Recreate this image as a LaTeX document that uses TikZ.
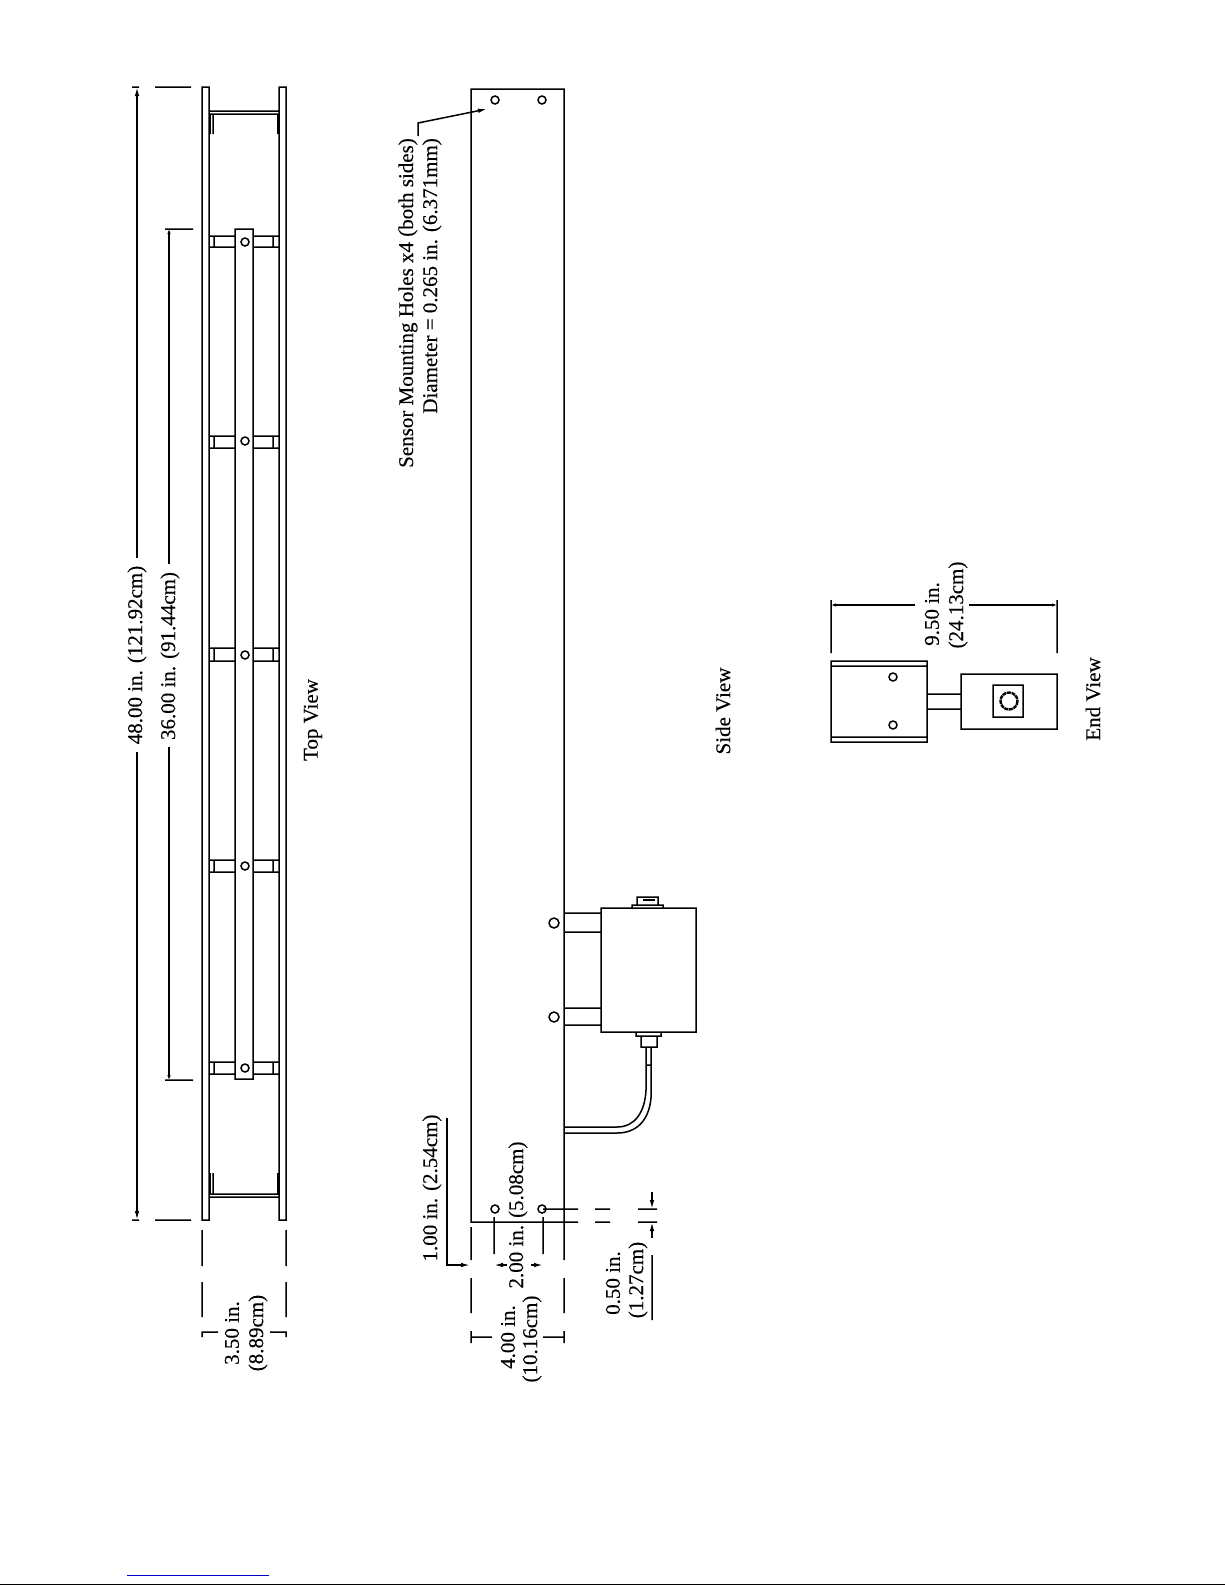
\documentclass[tikz,border=0pt]{standalone}
\usepackage{fontspec}
\setmainfont[FakeBold=0.2]{Liberation Serif}
\usetikzlibrary{arrows.meta}

\tikzset{
    part/.style={line width=1.5pt},
    heavy/.style={line width=2.4pt},
    dimarrow/.style={line width=1.5pt, -{Latex[length=9pt,width=4.5pt]}},
    tinyarrow/.style={line width=1.5pt, -{Latex[length=5pt,width=3.5pt]}},
    dimtext/.style={rotate=90, inner sep=0pt, font=\fontsize{21}{24}\selectfont},
    viewtext/.style={rotate=90, inner sep=0pt, font=\fontsize{21}{24}\selectfont},
}

\begin{document}
\begin{tikzpicture}[x=1pt, y=-1pt]
    \useasboundingbox (0, 0) rectangle (1225, 1585);

    % top view
    \draw[part]
        (202, 87) rectangle (209, 1220)
        (279, 87) rectangle (286, 1220)
        (235, 229) rectangle (253, 1079)

        (209, 111) -- ++ (70, 0)
        (209, 114) -- ++ (70, 0)
        (210, 114) -- ++ (0, 20)
        (213, 114) -- ++ (0, 20)
        (209, 1194) -- ++ (70, 0)
        (209, 1197) -- ++ (70, 0)
        (210, 1194) -- ++ (0, -21)
        (213, 1194) -- ++ (0, -21)

        (209, 236) -- ++ (26, 0)
        (209, 247) -- ++ (26, 0)
        (253, 236) -- ++ (26, 0)
        (253, 247) -- ++ (26, 0)
        (214, 236) -- ++ (0, 11)
        (273, 236) -- ++ (0, 11)

        (209, 436) -- ++ (26, 0)
        (209, 448) -- ++ (26, 0)
        (253, 436) -- ++ (26, 0)
        (253, 448) -- ++ (26, 0)
        (214, 436) -- ++ (0, 12)
        (273, 436) -- ++ (0, 12)

        (209, 648) -- ++ (26, 0)
        (209, 661) -- ++ (26, 0)
        (253, 648) -- ++ (26, 0)
        (253, 661) -- ++ (26, 0)
        (214, 648) -- ++ (0, 13)
        (273, 648) -- ++ (0, 13)

        (209, 860) -- ++ (26, 0)
        (209, 872) -- ++ (26, 0)
        (253, 860) -- ++ (26, 0)
        (253, 872) -- ++ (26, 0)
        (214, 860) -- ++ (0, 12)
        (273, 860) -- ++ (0, 12)

        (209, 1062) -- ++ (26, 0)
        (209, 1074) -- ++ (26, 0)
        (253, 1062) -- ++ (26, 0)
        (253, 1074) -- ++ (26, 0)
        (214, 1062) -- ++ (0, 12)
        (273, 1062) -- ++ (0, 12)

        (245, 242) circle[radius=4]
        (245, 441) circle[radius=4]
        (245, 655) circle[radius=4]
        (245, 866) circle[radius=4]
        (245, 1068) circle[radius=4]

        (132, 87) -- ++ (7, 0)
        (155, 87) -- ++ (36, 0)
        (132, 1220) -- ++ (7, 0)
        (155, 1220) -- ++ (36, 0)
        (165, 229) -- ++ (28, 0)
        (165, 1080) -- ++ (28, 0)

        (202, 1230) -- ++ (0, 36)
        (202, 1282) -- ++ (0, 35)
        (286, 1230) -- ++ (0, 36)
        (286, 1282) -- ++ (0, 35)
        (202, 1337) -- ++ (0, -5) -- ++ (16, 0)
        (286, 1337) -- ++ (0, -5) -- ++ (-16, 0)
    ;
    \draw[heavy]
        (278, 114) -- ++ (0, 20)
        (278, 1194) -- ++ (0, -21)
    ;
    \draw[dimarrow] (137, 558) -- (137, 87);
    \draw[dimarrow] (137, 752) -- (137, 1220);
    \draw[tinyarrow] (169, 564) -- (169, 229);
    \draw[tinyarrow] (169, 747) -- (169, 1080);
    \node[dimtext] (toplength) at (137, 655) {48.00 in. (121.92cm)};
    \node[dimtext] (barlength) at (170, 656) {36.00 in. (91.44cm)};
    \node[dimtext] (topwidthin) at (232, 1333) {3.50 in.};
    \node[dimtext] (topwidthcm) at (258, 1333) {(8.89cm)};
    \node[viewtext] (topview) at (313, 720) {Top View};

    % side view
    \draw[part]
        (471, 89) rectangle (564, 1222)
        (601, 908) rectangle (696, 1032)

        (495, 100) circle[radius=4]
        (542, 100) circle[radius=4]
        (495, 1209) circle[radius=4]
        (542, 1209) circle[radius=4]
        (554, 923) circle[radius=5]
        (554, 1017) circle[radius=5]

        (564, 913) -- ++ (37, 0)
        (564, 932) -- ++ (37, 0)
        (564, 1008) -- ++ (37, 0)
        (564, 1025) -- ++ (37, 0)

        (632, 905) rectangle (663, 908)
        (637, 897) rectangle (658, 905)
        (636, 1032) rectangle (661, 1036)
        (641, 1036) rectangle (657, 1047)

        (646, 1047) -- (646, 1090) .. controls (645, 1112) and (635, 1127) .. (617, 1127) -- (564, 1127)
        (651, 1047) -- (651, 1098) .. controls (649, 1120) and (637, 1133) .. (617, 1133) -- (564, 1133)
        (646, 1065) -- ++ (5, 0)

        (564, 1222) -- ++ (14, 0)
        (595, 1222) -- ++ (15, 0)
        (638, 1222) -- ++ (19, 0)
        (543, 1209) -- ++ (35, 0)
        (595, 1209) -- ++ (15, 0)
        (638, 1209) -- ++ (19, 0)

        (471, 1227) -- ++ (0, 33)
        (471, 1278) -- ++ (0, 35)
        (564, 1222) -- ++ (0, 38)
        (564, 1278) -- ++ (0, 35)
        (494, 1217) -- ++ (0, 37)
        (543, 1217) -- ++ (0, 37)

        (471, 1331) -- ++ (0, 12)
        (564, 1331) -- ++ (0, 12)
        (471, 1337) -- ++ (21, 0)
        (543, 1337) -- ++ (21, 0)

        (652, 1255) -- ++ (0, 65)
    ;
    \draw[heavy]
        (643, 900) -- ++ (12, 0)
    ;
    \draw[dimarrow] (418, 136) -- (418, 123) -- (487, 109);
    \draw[dimarrow] (447, 1118) -- (447, 1265) -- (470, 1265);
    \draw[dimarrow] (507, 1265) -- (494, 1265);
    \draw[dimarrow] (531, 1265) -- (543, 1265);
    \draw[dimarrow] (652, 1192) -- (652, 1209);
    \draw[dimarrow] (652, 1238) -- (652, 1222);

    \node[dimtext, anchor=east] (holesname) at (408, 138) {Sensor Mounting Holes x4 (both sides)};
    \node[dimtext, anchor=east] (holessize) at (432, 138) {Diameter = 0.265 in. (6.371mm)};
    \node[dimtext] (holeedge) at (432, 1188) {1.00 in. (2.54cm)};
    \node[dimtext] (holespan) at (518, 1215) {2.00 in. (5.08cm)};
    \node[dimtext] (sidewidthin) at (508, 1337) {4.00 in.};
    \node[dimtext] (sidewidthcm) at (532, 1339) {(10.16cm)};
    \node[dimtext] (holeendin) at (613, 1283) {0.50 in.};
    \node[dimtext] (holeendcm) at (638, 1280) {(1.27cm)};
    \node[viewtext] (sideview) at (723, 711) {Side View};

    % end view
    \draw[part]
        (831, 661) rectangle (927, 742)
        (831, 666) -- ++ (96, 0)
        (831, 737) -- ++ (96, 0)
        (893, 677) circle[radius=4]
        (893, 725) circle[radius=4]

        (927, 694) -- ++ (34, 0)
        (927, 709) -- ++ (34, 0)
        (961, 674) rectangle (1057, 729)
        (993, 685) rectangle (1023, 717)

        (831, 600) -- ++ (0, 53)
        (1057, 600) -- ++ (0, 53)
    ;
    \draw[heavy, dash pattern=on 4pt off 0.7pt] (1009, 701) circle[radius=8.5];
    \draw[tinyarrow] (915, 605) -- (831, 605);
    \draw[tinyarrow] (969, 605) -- (1057, 605);
    \node[dimtext] (endwidthin) at (932, 614) {9.50 in.};
    \node[dimtext] (endwidthcm) at (958, 605) {(24.13cm)};
    \node[viewtext] (endview) at (1093, 699) {End View};

    % page rules
    \draw[blue!80!black, line width=1pt] (127, 1575) -- (269, 1575);
    \draw[line width=1.5pt] (0, 1584.3) -- (1225, 1584.3);
\end{tikzpicture}
\end{document}
